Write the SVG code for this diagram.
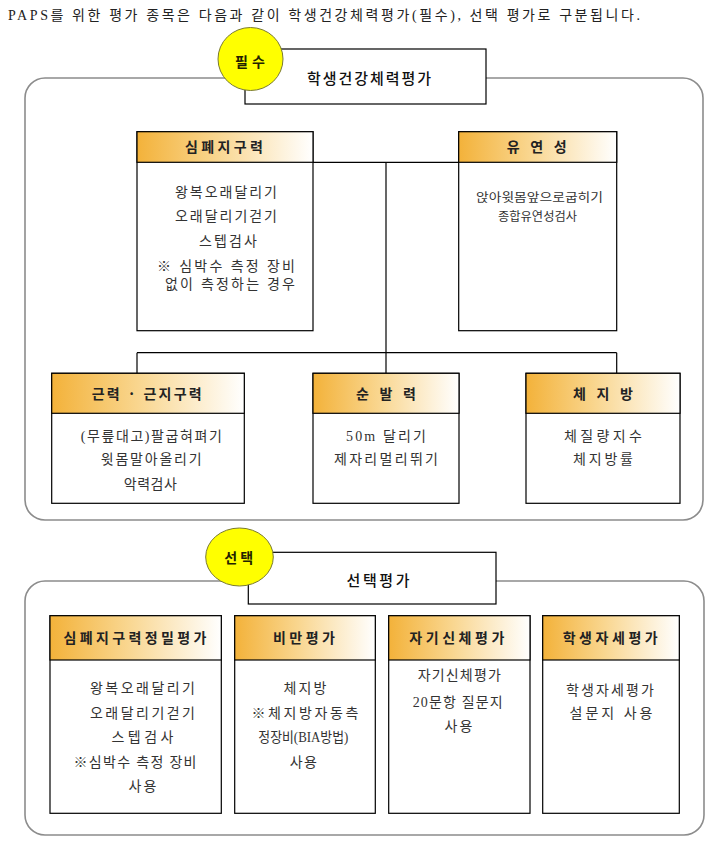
<svg xmlns="http://www.w3.org/2000/svg" width="726" height="846" viewBox="0 0 726 846">
<defs>
<linearGradient id="hdrGrad" x1="0" y1="0" x2="1" y2="0">
<stop offset="0" stop-color="#F3B23A"/>
<stop offset="0.45" stop-color="#F9D68F"/>
<stop offset="1" stop-color="#FFFFFF"/>
</linearGradient>
<style>
.frame{fill:#FFFFFF;stroke:#8C8C8C;stroke-width:1.6}
.title{fill:#FFFFFF;stroke:#000000;stroke-width:1.2}
.badge{fill:#FFFF00;stroke:#7A7A30;stroke-width:1}
.box{fill:#FFFFFF;stroke:#000000;stroke-width:1.2}
.hbar{fill:url(#hdrGrad);stroke:#000000;stroke-width:1.2}
.conn{fill:none;stroke:#000000;stroke-width:1.2}
.hdr{font-family:"Noto Sans CJK KR","Noto Sans",sans-serif;font-weight:bold;font-size:14px;fill:#222222;text-anchor:middle}
.ttl{font-family:"Noto Sans CJK KR","Noto Sans",sans-serif;font-weight:500;font-size:15px;fill:#111111;text-anchor:middle}
.bdg{font-family:"Noto Sans CJK KR","Noto Sans",sans-serif;font-weight:bold;font-size:14px;fill:#222200;text-anchor:middle}
.bd{font-family:"Liberation Serif","Noto Sans CJK KR",serif;font-size:14px;fill:#333333;text-anchor:middle}
.sm{font-family:"Liberation Serif","Noto Sans CJK KR",serif;font-size:12px;fill:#333333;text-anchor:middle}
.intro{font-family:"Liberation Serif","Noto Sans CJK KR",serif;font-size:14px;fill:#222222}
</style>
</defs>
<rect width="726" height="846" fill="#FFFFFF"/>

<g id="intro">
<text class="intro" x="8" y="20" textLength="632" lengthAdjust="spacing">PAPS를 위한 평가 종목은 다음과 같이 학생건강체력평가(필수), 선택 평가로 구분됩니다.</text>
</g>

<g id="section-required">
<rect class="frame" x="25" y="78" width="678" height="442" rx="20" ry="20"/>
<rect class="title" x="245" y="49" width="241" height="55"/>
<text class="ttl" x="369" y="83.5" textLength="124" lengthAdjust="spacing">학생건강체력평가</text>
<ellipse class="badge" cx="250.5" cy="59" rx="32.5" ry="31.5"/>
<text class="bdg" x="250" y="66.5" textLength="30" lengthAdjust="spacing">필수</text>
</g>

<g id="connectors">
<line class="conn" x1="313" y1="162.3" x2="458.7" y2="162.3"/>
<line class="conn" x1="386" y1="162.3" x2="386" y2="352.7"/>
<line class="conn" x1="137" y1="352.7" x2="616.7" y2="352.7"/>
<line class="conn" x1="137" y1="352.7" x2="137" y2="373.3"/>
<line class="conn" x1="386" y1="352.7" x2="386" y2="373.3"/>
<line class="conn" x1="616.7" y1="352.7" x2="616.7" y2="373.3"/>
<line class="conn" x1="221.3" y1="637.3" x2="234.7" y2="637.3"/>
<line class="conn" x1="375.3" y1="637.3" x2="388.7" y2="637.3"/>
<line class="conn" x1="530" y1="637.3" x2="542.7" y2="637.3"/>
</g>

<g id="node-cardio">
<rect class="box" x="137" y="131.7" width="176" height="199"/>
<rect class="hbar" x="137" y="131.7" width="176" height="30.6"/>
<text class="hdr" x="224" y="152" textLength="78" lengthAdjust="spacing">심폐지구력</text>
<text class="bd" x="226" y="196.7" textLength="102" lengthAdjust="spacing">왕복오래달리기</text>
<text class="bd" x="226" y="221" textLength="102" lengthAdjust="spacing">오래달리기걷기</text>
<text class="bd" x="228" y="246" textLength="58" lengthAdjust="spacing">스텝검사</text>
<text class="bd" x="226" y="271" textLength="138" lengthAdjust="spacing">※ 심박수 측정 장비</text>
<text class="bd" x="230" y="288.5" textLength="130" lengthAdjust="spacing">없이 측정하는 경우</text>
</g>

<g id="node-flexibility">
<rect class="box" x="458.7" y="131.7" width="158" height="199"/>
<rect class="hbar" x="458.7" y="131.7" width="158" height="30.6"/>
<text class="hdr" x="536.7" y="152" textLength="60" lengthAdjust="spacing">유 연 성</text>
<text class="sm" x="539.5" y="201.5" textLength="127" lengthAdjust="spacingAndGlyphs">앉아윗몸앞으로굽히기</text>
<text class="sm" x="537.5" y="221" textLength="79" lengthAdjust="spacingAndGlyphs">종합유연성검사</text>
</g>

<g id="node-strength">
<rect class="box" x="51.7" y="373.3" width="192.6" height="130"/>
<rect class="hbar" x="51.7" y="373.3" width="192.6" height="40"/>
<text class="hdr" x="146.7" y="398.8" textLength="110" lengthAdjust="spacing">근력 · 근지구력</text>
<text class="bd" x="151.3" y="441" textLength="141" lengthAdjust="spacing">(무릎대고)팔굽혀펴기</text>
<text class="bd" x="151.2" y="463.5" textLength="101" lengthAdjust="spacing">윗몸말아올리기</text>
<text class="bd" x="150.3" y="489" textLength="53" lengthAdjust="spacing">악력검사</text>
</g>

<g id="node-power">
<rect class="box" x="313" y="373.3" width="146" height="130"/>
<rect class="hbar" x="313" y="373.3" width="146" height="40"/>
<text class="hdr" x="386" y="398.8" textLength="60" lengthAdjust="spacing">순 발 력</text>
<text class="bd" x="386" y="441" textLength="80" lengthAdjust="spacing">50m 달리기</text>
<text class="bd" x="386" y="463.5" textLength="104" lengthAdjust="spacing">제자리멀리뛰기</text>
</g>

<g id="node-bodyfat">
<rect class="box" x="526" y="373.3" width="154" height="130"/>
<rect class="hbar" x="526" y="373.3" width="154" height="40"/>
<text class="hdr" x="603" y="398.8" textLength="60" lengthAdjust="spacing">체 지 방</text>
<text class="bd" x="603" y="441" textLength="78" lengthAdjust="spacing">체질량지수</text>
<text class="bd" x="603" y="463.5" textLength="60" lengthAdjust="spacing">체지방률</text>
</g>

<g id="section-optional">
<rect class="frame" x="25" y="581" width="679" height="254" rx="20" ry="20"/>
<rect class="title" x="248.3" y="552.3" width="247.7" height="51.7"/>
<text class="ttl" x="378" y="585.5" textLength="63" lengthAdjust="spacing">선택평가</text>
<ellipse class="badge" cx="239.5" cy="557" rx="33.8" ry="29"/>
<text class="bdg" x="238.7" y="563.3" textLength="29" lengthAdjust="spacing">선택</text>
</g>

<g id="node-cardio-precise">
<rect class="box" x="50" y="615.7" width="171.3" height="197.6"/>
<rect class="hbar" x="50" y="615.7" width="171.3" height="44.3"/>
<text class="hdr" x="135" y="642.8" textLength="143" lengthAdjust="spacing">심폐지구력정밀평가</text>
<text class="bd" x="142.5" y="693.3" textLength="105" lengthAdjust="spacing">왕복오래달리기</text>
<text class="bd" x="142.5" y="717.7" textLength="105" lengthAdjust="spacing">오래달리기걷기</text>
<text class="bd" x="142.5" y="742.3" textLength="62" lengthAdjust="spacing">스텝검사</text>
<text class="bd" x="135" y="766.7" textLength="123" lengthAdjust="spacing">※심박수 측정 장비</text>
<text class="bd" x="142.5" y="790.7" textLength="28" lengthAdjust="spacing">사용</text>
</g>

<g id="node-obesity">
<rect class="box" x="234.7" y="615.7" width="140.6" height="197.6"/>
<rect class="hbar" x="234.7" y="615.7" width="140.6" height="44.3"/>
<text class="hdr" x="304" y="642.8" textLength="62" lengthAdjust="spacing">비만평가</text>
<text class="bd" x="305" y="693.3" textLength="43" lengthAdjust="spacing">체지방</text>
<text class="bd" x="305" y="717.7" textLength="107" lengthAdjust="spacing">※체지방자동측</text>
<text class="bd" x="303.3" y="742.3" textLength="90" lengthAdjust="spacingAndGlyphs">정장비(BIA방법)</text>
<text class="bd" x="303.3" y="766.7" textLength="27" lengthAdjust="spacing">사용</text>
</g>

<g id="node-self-body">
<rect class="box" x="388.7" y="615.7" width="141.3" height="197.6"/>
<rect class="hbar" x="388.7" y="615.7" width="141.3" height="44.3"/>
<text class="hdr" x="456.8" y="642.8" textLength="95" lengthAdjust="spacing">자기신체평가</text>
<text class="bd" x="459.3" y="680" textLength="83" lengthAdjust="spacing">자기신체평가</text>
<text class="bd" x="457.7" y="706.7" textLength="90" lengthAdjust="spacing">20문항 질문지</text>
<text class="bd" x="458.5" y="731" textLength="28" lengthAdjust="spacing">사용</text>
</g>

<g id="node-posture">
<rect class="box" x="542.7" y="615.7" width="136.6" height="197.6"/>
<rect class="hbar" x="542.7" y="615.7" width="136.6" height="44.3"/>
<text class="hdr" x="610.2" y="642.8" textLength="95" lengthAdjust="spacing">학생자세평가</text>
<text class="bd" x="610" y="695" textLength="88" lengthAdjust="spacing">학생자세평가</text>
<text class="bd" x="611" y="717.7" textLength="83" lengthAdjust="spacing">설문지 사용</text>
</g>
</svg>
